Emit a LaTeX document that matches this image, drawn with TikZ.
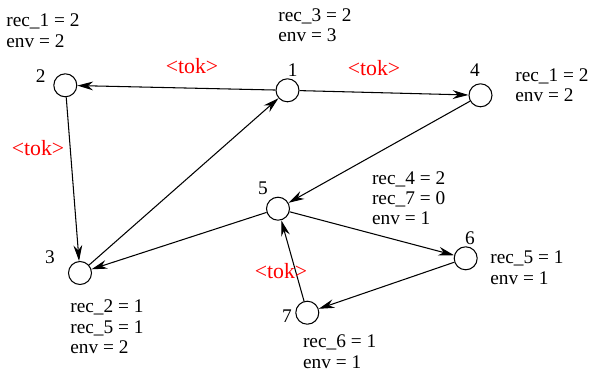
\documentclass[tikz,border=0pt]{standalone}
\usepackage{fontspec}
\setmainfont{Liberation Serif}
\usepackage{tikz}
\usetikzlibrary{arrows.meta,positioning}

\begin{document}
\begin{tikzpicture}[x=0.02cm,y=0.02cm,>={Stealth[length=9pt,width=5pt]},
    font=\fontsize{11}{11.6}\selectfont,
    vertex/.style={circle,draw,line width=0.6pt,minimum size=0.46cm,inner sep=0pt},
    idx/.style={inner sep=0pt},
    info/.style={anchor=north west,align=left,inner sep=0pt},
    tok/.style={red,inner sep=0pt,font=\fontsize{12.4}{13}\selectfont},
    link/.style={->,line width=0.6pt}]
  \useasboundingbox (0,0) rectangle (592,370);
  % processes
  \node[vertex] (v1) at (287.5,279.7) {};
  \node[vertex] (v2) at (65.3,284.7) {};
  \node[vertex] (v3) at (80,97) {};
  \node[vertex] (v4) at (480.5,274.7) {};
  \node[vertex] (v5) at (278,161.3) {};
  \node[vertex] (v6) at (465.7,111.7) {};
  \node[vertex] (v7) at (307.3,57.3) {};
  \node[idx] (i1) at (292.7,300) {1};
  \node[idx] (i2) at (40.7,294) {2};
  \node[idx] (i3) at (50,113) {3};
  \node[idx] (i4) at (475,300) {4};
  \node[idx] (i5) at (263,182) {5};
  \node[idx] (i6) at (470,132) {6};
  \node[idx] (i7) at (287,54) {7};
  % links
  \draw[link] (v1) -- (v2);
  \draw[link] (v1) -- (v4);
  \draw[link] (v2) -- (v3);
  \draw[link] (v3) -- (v1);
  \draw[link] (v4) -- (v5);
  \draw[link] (v5) -- (v3);
  \draw[link] (v5) -- (v6);
  \draw[link] (v6) -- (v7);
  \draw[link] (v7) -- (v5);
  \node[tok] (t12) at (192,304) {<tok>};
  \node[tok] (t14) at (374,302) {<tok>};
  \node[tok] (t23) at (38,222) {<tok>};
  \node[tok] (t75) at (281,99) {<tok>};
  % counters
  \node[info] (s2) at (6,356.3) {rec\_1 = 2\\env = 2};
  \node[info] (s1) at (278,362) {rec\_3 = 2\\env = 3};
  \node[info] (s4) at (515,302) {rec\_1 = 2\\env = 2};
  \node[info] (s5) at (371.7,199) {rec\_4 = 2\\rec\_7 = 0\\env = 1};
  \node[info] (s6) at (490,119.3) {rec\_5 = 1\\env = 1};
  \node[info] (s3) at (70,70.3) {rec\_2 = 1\\rec\_5 = 1\\env = 2};
  \node[info] (s7) at (302.7,35.3) {rec\_6 = 1\\env = 1};
\end{tikzpicture}
\end{document}
